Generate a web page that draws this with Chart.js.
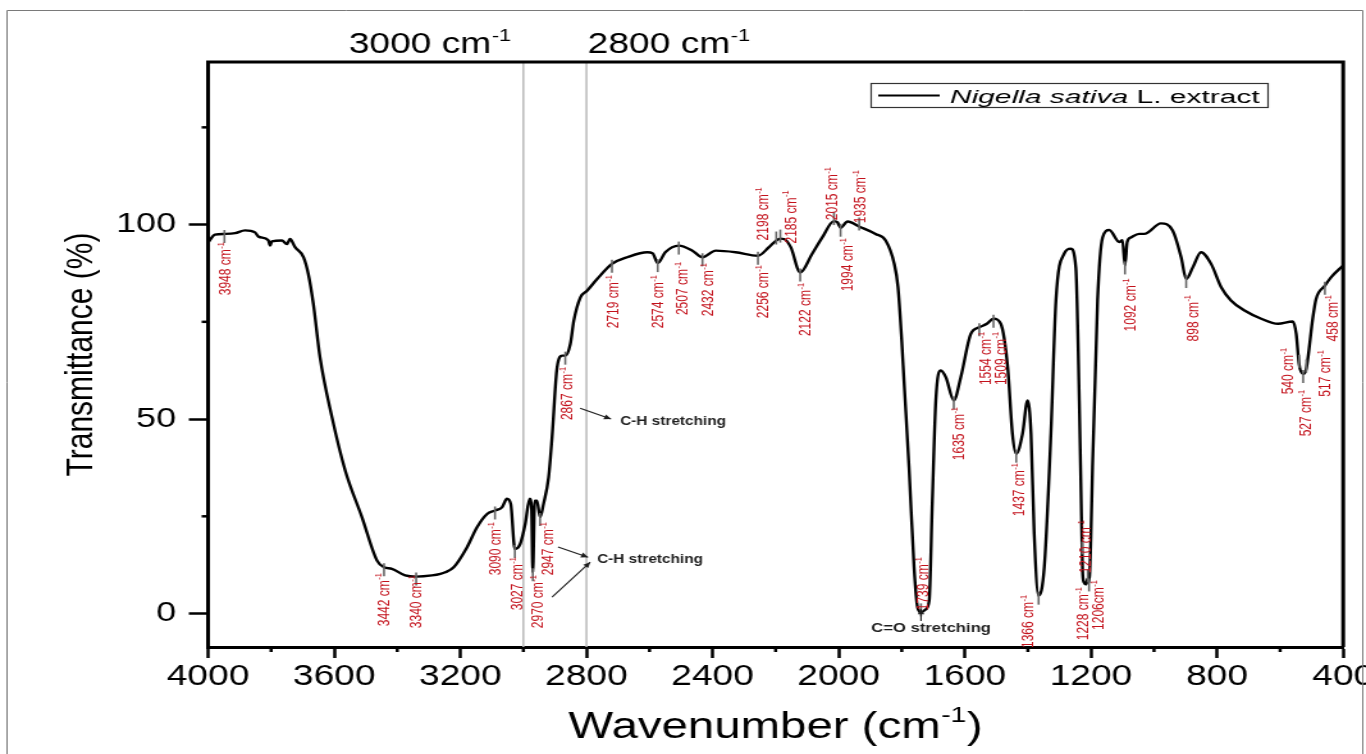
<!DOCTYPE html>
<html>
<head>
<meta charset="utf-8">
<script src="https://cdn.jsdelivr.net/npm/chart.js@4.4.0/dist/chart.umd.min.js"></script>
<style>
  html, body { margin: 0; padding: 0; background: #fff; overflow: hidden; }
  /* the reference figure is stretched sideways, so the whole canvas is too */
  #wrap { position: absolute; left: 0; top: 0; width: 1067px; height: 754px; transform: scaleX(1.2802); transform-origin: 0 0; }
</style>
</head>
<body>
<div id="wrap"><canvas id="ftir"></canvas></div>
<script>
// spectrum
var wavenumber = [4000, 3978, 3946, 3914, 3883, 3851, 3840, 3809, 3803, 3798, 3766, 3750, 3740, 3724, 3697, 3682, 3666, 3645, 3607, 3565,
  3512, 3464, 3442, 3417, 3375, 3340, 3290, 3263, 3248, 3221, 3179, 3147, 3115, 3090, 3068, 3052, 3040, 3027, 3010, 2994,
  2980, 2974, 2970, 2964, 2957, 2947, 2936, 2920, 2909, 2893, 2877, 2867, 2851, 2840, 2819, 2798, 2766, 2719, 2671, 2607,
  2590, 2574, 2550, 2507, 2464, 2432, 2390, 2327, 2256, 2221, 2198, 2185, 2174, 2152, 2122, 2084, 2052, 2015, 2004, 1994,
  1972, 1935, 1883, 1851, 1824, 1812, 1800, 1793, 1777, 1761, 1750, 1739, 1725, 1713, 1703, 1692, 1676, 1660, 1635, 1613,
  1581, 1554, 1530, 1509, 1486, 1464, 1449, 1437, 1417, 1401, 1390, 1380, 1366, 1348, 1327, 1311, 1285, 1264, 1248, 1237,
  1230, 1226, 1222, 1216, 1210, 1206, 1200, 1195, 1179, 1163, 1142, 1110, 1100, 1092, 1085, 1073, 1047, 1031, 978, 941,
  914, 898, 877, 851, 819, 787, 756, 713, 660, 607, 560, 549, 540, 527, 517, 496, 486, 458, 438, 400];
var transmittance = [95.4, 97.4, 97.6, 97.8, 98.5, 98.0, 96.9, 96.0, 94.6, 95.7, 95.9, 95.0, 96.3, 94.2, 91.6, 87.3, 79.6, 65.9, 50.5, 36.8,
  24.8, 13.6, 11.9, 11.5, 9.8, 9.5, 9.8, 10.2, 10.6, 11.9, 17.0, 22.2, 25.6, 26.5, 27.3, 29.5, 28.2, 16.6, 17.9, 23.1,
  29.5, 27.0, 10.6, 29.0, 29.0, 24.8, 28.2, 35.0, 45.3, 63.3, 66.3, 66.3, 69.3, 75.3, 81.3, 83.0, 86.0, 89.9, 91.6, 92.9,
  92.6, 90.1, 92.9, 94.6, 93.3, 91.6, 93.3, 92.9, 92.0, 94.2, 95.9, 96.4, 96.3, 94.2, 87.7, 92.5, 96.7, 100.9, 100.6, 99.2,
  100.8, 99.5, 97.6, 95.9, 90.0, 84.0, 70.0, 60.0, 37.6, 11.9, 1.6, 0.3, 1.0, 3.3, 29.0, 54.8, 62.5, 60.7, 54.8, 60.7,
  71.9, 73.6, 74.5, 75.8, 74.5, 63.3, 46.2, 41.1, 46.2, 54.8, 46.2, 20.5, 4.6, 11.9, 46.2, 80.5, 92.5, 93.8, 89.0, 54.8,
  25.0, 10.0, 8.0, 7.5, 9.0, 8.0, 20.0, 37.6, 80.5, 96.7, 98.6, 95.5, 96.0, 89.5, 95.5, 96.7, 97.6, 97.6, 100.3, 98.5,
  91.6, 86.0, 89.0, 92.9, 89.9, 83.9, 80.5, 77.9, 75.8, 74.5, 75.1, 71.9, 64.2, 61.6, 63.0, 76.2, 80.9, 84.3, 86.5, 89.5];

var xTicks = [4000, 3600, 3200, 2800, 2400, 2000, 1600, 1200, 800, 400];
var xMinorTicks = [3800, 3400, 3000, 2600, 2200, 1800, 1400, 1000, 600];
var yTicks = [0, 50, 100];
var yMinorTicks = [25, 75, 125];
var markerLines = [3000, 2800];

// marked peaks and the text printed next to them
var peakWavenumber = [3948, 3442, 3340, 3090, 3027, 2970, 2947, 2867, 2719, 2574, 2507, 2432, 2256, 2198, 2185, 2122, 2015,
  1994, 1935, 1739, 1635, 1554, 1509, 1437, 1366, 1228, 1210, 1206, 1092, 898, 540, 527, 517, 458];
var peakText = ['3948 cm', '3442 cm', '3340 cm', '3090 cm', '3027 cm', '2970 cm', '2947 cm', '2867 cm', '2719 cm', '2574 cm',
  '2507 cm', '2432 cm', '2256 cm', '2198 cm', '2185 cm', '2122 cm', '2015 cm', '1994 cm', '1935 cm', '1739 cm', '1635 cm',
  '1554 cm', '1509 cm', '1437 cm', '1366 cm', '1228 cm', '1210 cm', '1206cm', '1092 cm', '898 cm', '540 cm', '527 cm',
  '517 cm', '458 cm'];
// where each peak label sits: [wavenumber of its centre, transmittance of its top end]
var peakLabelAt = [[3946, 95.5], [3445, 10.4], [3340, 9.9], [3090, 23.5], [3020, 14.5], [2956, 9.9], [2922, 23.5], [2861, 63.4],
  [2715, 87.0], [2573, 87.0], [2497, 90.4], [2414, 90.1], [2243, 89.6], [2243, 109.6], [2154, 108.8], [2106, 85.0],
  [2021, 114.8], [1973, 96.5], [1932, 114.0], [1735, 14.5], [1621, 53.1], [1536, 72.4], [1488, 72.4], [1431, 38.7],
  [1399, 4.8], [1228, 6.8], [1218, 24.0], [1177, 8.6], [1076, 86.2], [879, 81.9], [578, 68.3], [521, 57.5], [457, 67.7],
  [435, 81.9]];

var FONT = "'Liberation Sans', Arial, Helvetica, sans-serif";
var RED = '#c3121c';

function valueAt(w) {
  for (var i = 1; i < wavenumber.length; i++) {
    if (w >= wavenumber[i]) {
      var t = (wavenumber[i - 1] - w) / (wavenumber[i - 1] - wavenumber[i]);
      return transmittance[i - 1] + t * (transmittance[i] - transmittance[i - 1]);
    }
  }
  return transmittance[transmittance.length - 1];
}

// text with a "-1" superscript, horizontal
function supText(ctx, x, y, before, after, size, align, style) {
  style = style || '';
  ctx.font = style + size + 'px ' + FONT;
  var w1 = ctx.measureText(before).width;
  var w3 = after ? ctx.measureText(after).width : 0;
  ctx.font = style + Math.round(size * 0.6) + 'px ' + FONT;
  var w2 = ctx.measureText('-1').width;
  var total = w1 + w2 + w3 + 1;
  var x0 = align === 'center' ? x - total / 2 : (align === 'right' ? x - total : x);
  ctx.textAlign = 'left';
  ctx.textBaseline = 'alphabetic';
  ctx.font = style + size + 'px ' + FONT;
  ctx.fillText(before, x0, y);
  if (after) ctx.fillText(after, x0 + w1 + w2 + 1, y);
  ctx.font = style + Math.round(size * 0.6) + 'px ' + FONT;
  ctx.fillText('-1', x0 + w1 + 0.5, y - size * 0.42);
}

// peak label, reading bottom to top, hanging down from yTop
function rotLabel(ctx, x, yTop, text, size) {
  ctx.font = size + 'px ' + FONT;
  var w1 = ctx.measureText(text).width;
  ctx.font = (size * 0.62) + 'px ' + FONT;
  var w2 = ctx.measureText('-1').width;
  ctx.save();
  ctx.translate(x, yTop + w1 + w2 + 0.5);
  ctx.rotate(-Math.PI / 2);
  ctx.textAlign = 'left';
  ctx.textBaseline = 'alphabetic';
  ctx.font = size + 'px ' + FONT;
  ctx.fillText(text, 0, size * 0.36);
  ctx.font = (size * 0.62) + 'px ' + FONT;
  ctx.fillText('-1', w1 + 0.5, size * 0.36 - size * 0.42);
  ctx.restore();
}

function arrow(ctx, x1, y1, x2, y2) {
  ctx.beginPath();
  ctx.moveTo(x1, y1);
  ctx.lineTo(x2, y2);
  ctx.stroke();
  var a = Math.atan2(y2 - y1, x2 - x1);
  ctx.beginPath();
  ctx.moveTo(x2, y2);
  ctx.lineTo(x2 - 6 * Math.cos(a - 0.45), y2 - 6 * Math.sin(a - 0.45));
  ctx.lineTo(x2 - 6 * Math.cos(a + 0.45), y2 - 6 * Math.sin(a + 0.45));
  ctx.closePath();
  ctx.fill();
}

var ftirExtras = {
  id: 'ftirExtras',
  beforeDatasetsDraw: function (chart) {
    var ctx = chart.ctx, a = chart.chartArea, xs = chart.scales.x;
    ctx.save();
    ctx.strokeStyle = '#bdbdbd';
    ctx.lineWidth = 1.6;
    markerLines.forEach(function (w) {
      var px = xs.getPixelForValue(w);
      ctx.beginPath();
      ctx.moveTo(px, a.top);
      ctx.lineTo(px, a.bottom);
      ctx.stroke();
    });
    ctx.restore();
  },
  afterDraw: function (chart) {
    var ctx = chart.ctx, a = chart.chartArea, xs = chart.scales.x, ys = chart.scales.y;
    ctx.save();

    // outer figure border
    ctx.strokeStyle = '#7a7a7a';
    ctx.lineWidth = 1;
    ctx.beginPath();
    ctx.moveTo(5.5, 760);
    ctx.lineTo(5.5, 10.5);
    ctx.lineTo(1064.5, 10.5);
    ctx.lineTo(1064.5, 760);
    ctx.stroke();

    // top and right frame
    ctx.strokeStyle = '#000';
    ctx.lineWidth = 3;
    ctx.beginPath();
    ctx.moveTo(a.left - 1.5, a.top);
    ctx.lineTo(a.right, a.top);
    ctx.lineTo(a.right, a.bottom);
    ctx.stroke();

    // minor ticks
    ctx.lineWidth = 2.5;
    xMinorTicks.forEach(function (w) {
      var px = xs.getPixelForValue(w);
      ctx.beginPath();
      ctx.moveTo(px, a.bottom);
      ctx.lineTo(px, a.bottom + 5);
      ctx.stroke();
    });
    yMinorTicks.forEach(function (v) {
      var py = ys.getPixelForValue(v);
      ctx.beginPath();
      ctx.moveTo(a.left, py);
      ctx.lineTo(a.left - 5, py);
      ctx.stroke();
    });

    // wavenumber markers above the plot
    ctx.fillStyle = '#000';
    supText(ctx, xs.getPixelForValue(3000) - 9, 53, '3000 cm', '', 29, 'right');
    supText(ctx, xs.getPixelForValue(2800) + 1, 53, '2800 cm', '', 29, 'left');

    // x axis title
    supText(ctx, (a.left + a.right) / 2, 738, 'Wavenumber (cm', ')', 37, 'center');

    // legend
    ctx.strokeStyle = '#333';
    ctx.lineWidth = 1.2;
    ctx.strokeRect(680.5, 83.5, 310, 24);
    ctx.strokeStyle = '#000';
    ctx.lineWidth = 2;
    ctx.beginPath();
    ctx.moveTo(686, 95.5);
    ctx.lineTo(734, 95.5);
    ctx.stroke();
    ctx.save();
    ctx.translate(742, 103);
    ctx.scale(1.3, 1);
    ctx.textAlign = 'left';
    ctx.textBaseline = 'alphabetic';
    ctx.font = 'italic 18px ' + FONT;
    ctx.fillText('Nigella sativa', 0, 0);
    var wi = ctx.measureText('Nigella sativa').width;
    ctx.font = '18px ' + FONT;
    ctx.fillText(' L. extract', wi, 0);
    ctx.restore();

    // peak ticks and labels
    ctx.strokeStyle = '#666';
    ctx.lineWidth = 1.6;
    peakWavenumber.forEach(function (w, i) {
      var px = xs.getPixelForValue(w);
      var py = ys.getPixelForValue(valueAt(w));
      var above = peakLabelAt[i][1] > valueAt(w) + 3;
      ctx.beginPath();
      ctx.moveTo(px, above ? py + 4 : py - 4);
      ctx.lineTo(px, above ? py - 9 : py + 9);
      ctx.stroke();
    });
    ctx.fillStyle = RED;
    peakText.forEach(function (t, i) {
      rotLabel(ctx, xs.getPixelForValue(peakLabelAt[i][0]), ys.getPixelForValue(peakLabelAt[i][1]), t, 12);
    });

    // band assignments
    ctx.fillStyle = '#1e1e1e';
    ctx.strokeStyle = '#1e1e1e';
    ctx.lineWidth = 1.1;
    arrow(ctx, xs.getPixelForValue(2820), ys.getPixelForValue(52.8), xs.getPixelForValue(2722), ys.getPixelForValue(50.0));
    arrow(ctx, xs.getPixelForValue(2890), ys.getPixelForValue(17.1), xs.getPixelForValue(2795), ys.getPixelForValue(14.5));
    arrow(ctx, xs.getPixelForValue(2909), ys.getPixelForValue(4.2), xs.getPixelForValue(2788), ys.getPixelForValue(13.2));
    arrow(ctx, xs.getPixelForValue(1739), ys.getPixelForValue(-1.9), xs.getPixelForValue(1739), ys.getPixelForValue(1.2));
    ctx.font = 'bold 12px ' + FONT;
    ctx.textBaseline = 'middle';
    ctx.textAlign = 'left';
    ctx.fillText('C-H stretching', xs.getPixelForValue(2693), ys.getPixelForValue(49.3));
    ctx.fillText('C-H stretching', xs.getPixelForValue(2766), ys.getPixelForValue(13.8));
    ctx.textAlign = 'center';
    ctx.font = 'bold 13px ' + FONT;
    ctx.fillText('C=O stretching', xs.getPixelForValue(1707), ys.getPixelForValue(-3.7));

    ctx.restore();
  }
};

var points = wavenumber.map(function (w, i) { return { x: w, y: transmittance[i] }; });

new Chart(document.getElementById('ftir'), {
  type: 'line',
  data: {
    datasets: [{
      label: 'Nigella sativa L. extract',
      data: points,
      borderColor: '#000',
      borderWidth: 2.4,
      pointRadius: 0,
      cubicInterpolationMode: 'monotone',
      fill: false
    }]
  },
  options: {
    responsive: true,
    maintainAspectRatio: false,
    animation: false,
    layout: { padding: { left: 0, right: 17.8, top: 62, bottom: 0 } },
    plugins: { legend: { display: false }, tooltip: { enabled: false } },
    scales: {
      x: {
        type: 'linear',
        reverse: true,
        min: 400,
        max: 4000,
        afterBuildTicks: function (s) { s.ticks = xTicks.map(function (v) { return { value: v }; }); },
        afterFit: function (s) { s.height = 107; s.paddingLeft = 0; s.paddingRight = 0; },
        ticks: { font: { family: FONT, size: 29 }, color: '#000', padding: 2, maxRotation: 0, autoSkip: false,
          callback: function (v) { return String(v); } },
        grid: { drawOnChartArea: false, tickLength: 11, tickWidth: 2.5, tickColor: '#000' },
        border: { display: true, width: 3, color: '#000' }
      },
      y: {
        min: -8.6,
        max: 141.8,
        afterBuildTicks: function (s) { s.ticks = yTicks.map(function (v) { return { value: v }; }); },
        afterFit: function (s) { s.width = 162.5; s.paddingTop = 0; s.paddingBottom = 0; },
        ticks: { font: { family: FONT, size: 28 }, color: '#000', padding: 10 },
        grid: { drawOnChartArea: false, tickLength: 15, tickWidth: 2.5, tickColor: '#000' },
        border: { display: true, width: 3, color: '#000' },
        title: { display: true, text: 'Transmittance (%)', font: { family: FONT, size: 30 }, color: '#000', padding: { top: 46, bottom: 0 } }
      }
    }
  },
  plugins: [ftirExtras]
});
</script>
</body>
</html>
